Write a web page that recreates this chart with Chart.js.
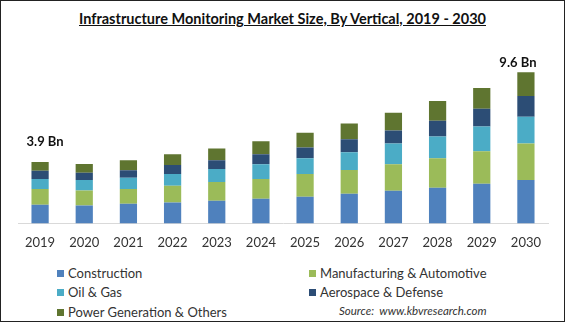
<!DOCTYPE html>
<html>
<head>
<meta charset="utf-8">
<script src="https://cdn.jsdelivr.net/npm/chart.js@4.4.1/dist/chart.umd.min.js"></script>
<style>
  html, body { margin: 0; padding: 0; background: #fff; }
  #frame { position: relative; width: 565px; height: 322px; box-sizing: border-box; border: 1px solid #222; overflow: hidden; font-family: Lato, "Open Sans", sans-serif; }
  #title { position: absolute; top: 9px; left: 0; width: 100%; text-align: center; font-weight: bold; font-size: 14.5px; text-decoration: underline; color: #111; }
  #wrap { position: absolute; left: 0; top: 0; width: 563px; height: 262px; }
  .leg { position: absolute; font-size: 13px; color: #333; line-height: 16px; }
  .leg i { display: inline-block; width: 7px; height: 7px; margin-right: 4px; vertical-align: 1px; }
  #source { position: absolute; left: 338px; top: 303px; font-size: 11.5px; font-style: italic; color: #333; }
</style>
</head>
<body>
<div id="frame">
  <div id="title">Infrastructure Monitoring Market Size, By Vertical, 2019 - 2030</div>
  <div id="wrap"><canvas id="chart"></canvas></div>
  <div id="legend"></div>
  <div id="source">Source:&nbsp; www.kbvresearch.com</div>
</div>
<script>
const years = ["2019", "2020", "2021", "2022", "2023", "2024", "2025", "2026", "2027", "2028", "2029", "2030"];
const construction = [1.19, 1.13, 1.25, 1.32, 1.44, 1.57, 1.69, 1.88, 2.07, 2.26, 2.51, 2.76];
const manufacturing = [1.00, 0.96, 0.94, 1.07, 1.19, 1.25, 1.44, 1.51, 1.69, 1.88, 2.07, 2.32];
const oilGas = [0.63, 0.67, 0.71, 0.75, 0.82, 0.94, 1.00, 1.13, 1.32, 1.38, 1.57, 1.69];
const aerospace = [0.52, 0.46, 0.48, 0.56, 0.56, 0.63, 0.69, 0.82, 0.82, 1.00, 1.13, 1.32];
const powerGen = [0.56, 0.55, 0.63, 0.69, 0.75, 0.82, 0.94, 1.00, 1.13, 1.25, 1.32, 1.51];
const totalLabels = ["3.9 Bn", "", "", "", "", "", "", "", "", "", "", "9.6 Bn"];

const series = [
  { label: "Construction", data: construction, color: "#4f81bd" },
  { label: "Manufacturing & Automotive", data: manufacturing, color: "#9bbb59" },
  { label: "Oil & Gas", data: oilGas, color: "#4bacc6" },
  { label: "Aerospace & Defense", data: aerospace, color: "#2c4d75" },
  { label: "Power Generation & Others", data: powerGen, color: "#5f7530" }
];

// legend in two columns, like the picture
const legendPos = [[56, 264], [308, 264], [56, 283], [308, 283], [56, 303]];
const legend = document.getElementById("legend");
series.forEach(function (s, i) {
  const d = document.createElement("div");
  d.className = "leg";
  d.style.left = legendPos[i][0] + "px";
  d.style.top = legendPos[i][1] + "px";
  d.innerHTML = '<i style="background:' + s.color + '"></i>' + s.label.replace(/&/g, "&amp;");
  legend.appendChild(d);
});

// total labels above first and last bar
const totalsPlugin = {
  id: "totals",
  afterDatasetsDraw(chart) {
    const ctx = chart.ctx;
    const top = chart.getDatasetMeta(series.length - 1);
    ctx.save();
    ctx.font = "bold 13px Lato, 'Open Sans', sans-serif";
    ctx.fillStyle = "#111";
    ctx.textAlign = "center";
    ctx.textBaseline = "middle";
    totalLabels.forEach(function (t, i) {
      if (!t) return;
      const bar = top.data[i];
      const dx = i === 0 ? 5 : -8;
      const dy = i === 0 ? -20 : -9;
      ctx.fillText(t, bar.x + dx, bar.y + dy);
    });
    ctx.restore();
  }
};

new Chart(document.getElementById("chart"), {
  type: "bar",
  data: {
    labels: years,
    datasets: series.map(function (s) {
      return { label: s.label, data: s.data, backgroundColor: s.color, borderWidth: 0 };
    })
  },
  options: {
    responsive: true,
    maintainAspectRatio: false,
    animation: false,
    layout: { padding: { left: 17, right: 16, top: 57, bottom: 8 } },
    datasets: { bar: { barPercentage: 0.39, categoryPercentage: 1 } },
    plugins: { legend: { display: false }, title: { display: false }, tooltip: { enabled: false } },
    scales: {
      x: {
        stacked: true,
        grid: { display: false },
        border: { display: true, color: "#d9d9d9", width: 1 },
        ticks: { color: "#333", padding: 4, font: { size: 13, family: "Lato, 'Open Sans', sans-serif" } }
      },
      y: {
        stacked: true,
        display: false,
        min: 0,
        max: 10.5
      }
    }
  },
  plugins: [totalsPlugin]
});
</script>
</body>
</html>
